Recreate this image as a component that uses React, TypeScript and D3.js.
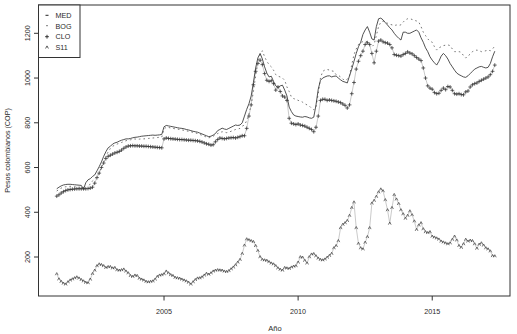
import React from "react";
import * as d3 from "d3";

const width = 517;
const height = 334;

// monthly series, Jan 2001 .. May 2017
const startYear = 2001;

const med = [
  505, 512, 518, 522, 524, 525, 525, 524, 523, 522, 521, 520,
  503, 532, 545, 550, 560, 567, 585, 604, 625, 650, 671, 688,
  695, 705, 710, 713, 718, 722, 725, 728, 728, 730, 733, 735,
  736, 738, 740, 741, 742, 743, 744, 745, 744, 745, 746, 748,
  782, 788, 786, 784, 782, 780, 778, 776, 775, 773, 770, 768,
  765, 762, 760, 758, 754, 750, 746, 742, 738, 740, 745, 752,
  765, 770, 776, 772, 770, 775, 780, 785, 790, 788, 790, 800,
  830, 860, 885, 920, 980, 1045, 1090, 1110, 1085, 1050, 1022, 1005,
  1008, 985, 965, 958, 965, 968, 946, 920, 870, 850, 835, 830,
  828, 826, 825, 828, 826, 822, 820, 825, 880, 950, 990, 1000,
  1005, 1009, 1010, 1005, 1008, 1009, 1000, 992, 985, 982, 978, 1010,
  1040, 1075, 1110, 1140, 1160, 1195, 1215, 1230, 1205, 1175, 1170, 1230,
  1265, 1268, 1260, 1248, 1237, 1225, 1215, 1200, 1188, 1178, 1170, 1205,
  1205, 1200, 1200, 1205, 1210, 1215, 1205, 1180, 1160, 1135, 1118, 1095,
  1080, 1068, 1058, 1075, 1098, 1110, 1100, 1085, 1065, 1050, 1035, 1022,
  1015, 1010, 1005, 1003, 1010, 1020, 1030, 1040, 1045, 1050, 1052, 1048,
  1045, 1048, 1065, 1095, 1120,
];

const bog = [
  495, 502, 508, 512, 514, 515, 516, 515, 514, 513, 512, 511,
  505, 500, 510, 528, 540, 548, 560, 580, 600, 625, 650, 670,
  685, 695, 700, 705, 708, 712, 716, 720, 722, 724, 726, 728,
  725, 727, 728, 728, 729, 730, 731, 732, 733, 734, 735, 736,
  772, 780, 779, 777, 775, 773, 772, 770, 768, 766, 764, 762,
  760, 757, 755, 752, 748, 744, 740, 736, 733, 735, 740, 746,
  752, 756, 760, 758, 756, 758, 762, 766, 770, 772, 775, 785,
  790, 810, 840, 880, 940, 1010, 1070, 1105, 1122, 1095, 1075, 1060,
  1050, 1035, 1015, 1008, 1005, 1000, 990, 960, 940, 915, 908, 905,
  900, 898, 892, 885, 880, 875, 865, 858, 870, 930, 1000, 1030,
  1036, 1038, 1036, 1032, 1030, 1015, 1012, 1005, 995, 990, 995, 1010,
  1060, 1105, 1130, 1150, 1158, 1163, 1165, 1162, 1155, 1140, 1150, 1190,
  1230, 1250, 1255, 1250, 1245, 1240, 1238, 1235, 1237, 1235, 1238, 1250,
  1260, 1265, 1265, 1262, 1258, 1255, 1250, 1230, 1205, 1190, 1175, 1165,
  1160, 1140, 1125, 1135, 1140, 1145, 1147, 1148, 1145, 1130, 1118, 1118,
  1118, 1115, 1100, 1090, 1095, 1110, 1118, 1122, 1125, 1122, 1118, 1120,
  1122, 1125, 1122, 1130, 1143,
];

const clo = [
  472, 478, 486, 492, 497, 500, 502, 503, 504, 505, 505, 505,
  505, 505, 506, 508, 512, 530, 555, 575, 600, 620, 640, 650,
  655, 660, 665, 668, 672, 678, 686, 692, 696, 697, 698, 697,
  697, 696, 696, 695, 695, 694, 693, 692, 691, 690, 689, 688,
  728, 732, 730, 729, 728, 727, 726, 725, 725, 724, 723, 722,
  722, 721, 720, 719, 717, 714, 710, 706, 704, 700, 702, 715,
  725, 732, 730, 728, 730, 732, 733, 734, 732, 735, 738, 742,
  742, 775, 830, 880, 970, 1030, 1065, 1080, 1060, 1020, 990, 985,
  988, 975, 946, 960, 940, 920, 915, 900, 820, 798, 795, 792,
  795, 790, 788, 785, 780, 775, 770, 760, 780, 830, 900, 905,
  905, 900, 902, 900, 898, 896, 893, 890, 884, 878, 866, 880,
  930, 980, 1040, 1075, 1100, 1120, 1150, 1158, 1150, 1110, 1068, 1120,
  1165, 1170, 1162, 1158, 1156, 1150, 1135, 1105, 1102, 1100, 1098, 1105,
  1110, 1117, 1112, 1108, 1100, 1092, 1085, 1078, 1045, 1000, 965, 955,
  950, 935, 930, 932, 945, 955, 948, 962, 960, 945, 930, 928,
  930, 926, 925, 938, 942, 960, 970, 975, 978, 985, 990, 995,
  1000, 1005, 1015, 1030, 1058,
];

const s11 = [
  124, 101, 90, 82, 78, 88, 96, 101, 106, 110, 105, 98,
  92, 86, 84, 100, 125, 140, 160, 168, 165, 160, 152, 156,
  156, 150, 152, 142, 140, 142, 145, 136, 128, 116, 112, 118,
  116, 104, 100, 96, 90, 88, 90, 92, 100, 112, 118, 120,
  124, 136, 128, 120, 116, 108, 106, 104, 100, 96, 92, 86,
  78, 88, 98, 105, 106, 110, 118, 126, 122, 128, 136, 140,
  142, 141, 140, 136, 134, 138, 146, 154, 164, 176, 188, 215,
  252, 280, 276, 272, 268, 250, 228, 200, 188, 186, 184, 178,
  172, 168, 160, 150, 144, 140, 152, 150, 148, 154, 158, 160,
  176, 200, 198, 184, 172, 200, 212, 214, 204, 194, 188, 186,
  190, 198, 206, 215, 240, 250, 272, 330, 345, 352, 362, 385,
  420, 445, 330, 260, 240, 235, 265, 290, 330, 440, 452, 470,
  490, 503, 495, 455, 410, 350, 420, 478, 458, 438, 410, 392,
  372, 385, 405, 388, 360, 322, 342, 352, 325, 312, 308, 312,
  292, 288, 284, 279, 270, 266, 262, 258, 262, 278, 292, 275,
  250, 242, 258, 278, 270, 274, 272, 258, 238, 256, 262, 252,
  240, 235, 226, 205, 204,
];

const xTicks = [2005, 2010, 2015];
const yTicks = [200, 400, 600, 800, 1000, 1200];
const legendNames = ["MED", "BOG", "CLO", "S11"];

const left = 38.5, right = 510, top = 5, bottom = 296;
const font = "Liberation Sans, Arial, sans-serif";
const ink = "#2a2a2a";

const x = d3.scaleLinear().domain([2000.32, 2017.9]).range([left, right]);
const y = d3.scaleLinear().domain([25.7, 1326.5]).range([bottom, top]);

const toPts = (arr: number[]) => arr.map((v, i) => [startYear + i / 12, v] as [number, number]);

const line = d3.line<[number, number]>()
  .x(d => x(d[0]))
  .y(d => y(d[1]));

function plus(cx: number, cy: number, s = 1.9) {
  return `M${cx - s},${cy}h${2 * s}M${cx},${cy - s}v${2 * s}`;
}

function caret(cx: number, cy: number) {
  return `M${cx - 1.4},${cy + 1.2}L${cx},${cy - 1.4}L${cx + 1.4},${cy + 1.2}`;
}

function App() {
  const medPts = toPts(med);
  const bogPts = toPts(bog);
  const cloPts = toPts(clo);
  const s11Pts = toPts(s11);

  const legendY = [15.3, 26, 36.7, 47.3];

  return (
    <div style={{position: "fixed", left: 0, top: 0}}>
      <svg width={width} height={height} style={{display: "block", background: "#fff"}}>
        {/* series */}
        <path d={line(s11Pts) || ""} fill="none" stroke="#888" strokeWidth={0.45} />
        <path d={s11Pts.map(d => caret(x(d[0]), y(d[1]))).join("")} fill="none" stroke="#3a3a3a" strokeWidth={0.7} />

        <path d={line(cloPts) || ""} fill="none" stroke="#777" strokeWidth={0.4} />
        <path d={cloPts.map(d => plus(x(d[0]), y(d[1]))).join("")} fill="none" stroke="#2a2a2a" strokeWidth={0.7} />

        <path d={line(bogPts) || ""} fill="none" stroke="#666" strokeWidth={0.9} strokeDasharray="1.6 3" />

        <path d={line(medPts) || ""} fill="none" stroke="#333" strokeWidth={0.85} />

        {/* box */}
        <rect x={left} y={top} width={right - left} height={bottom - top} fill="none" stroke="#333" strokeWidth={1} />

        {/* y axis */}
        {yTicks.map(t => (
          <g key={t}>
            <line x1={left} x2={left - 4.5} y1={y(t)} y2={y(t)} stroke="#333" />
            <text transform={`translate(29.5,${y(t)}) rotate(-90)`} textAnchor="middle"
                  fontFamily={font} fontSize={7.2} fill={ink}>{t}</text>
          </g>
        ))}
        <text transform={`translate(10,${(top + bottom) / 2}) rotate(-90)`} textAnchor="middle"
              fontFamily={font} fontSize={7.2} fill={ink}>Pesos colombianos (COP)</text>

        {/* x axis */}
        {xTicks.map(t => (
          <g key={t}>
            <line x1={x(t)} x2={x(t)} y1={bottom} y2={bottom + 4.5} stroke="#333" />
            <text x={x(t)} y={313.5} textAnchor="middle" fontFamily={font} fontSize={7.2} fill={ink}>{t}</text>
          </g>
        ))}
        <text x={275} y={331} textAnchor="middle" fontFamily={font} fontSize={7.5} fill={ink}>Año</text>

        {/* legend */}
        <rect x={left} y={top} width={41.5} height={52.5} fill="#fff" stroke="#333" strokeWidth={1} />
        {legendNames.map((name, i) => (
          <g key={name}>
            {i === 0 && <line x1={45.5} x2={48.5} y1={legendY[i]} y2={legendY[i]} stroke="#222" strokeWidth={1} />}
            {i === 1 && <line x1={46.3} x2={47.7} y1={legendY[i] - 0.3} y2={legendY[i] - 0.3} stroke="#444" strokeWidth={1} />}
            {i === 2 && <path d={plus(47, legendY[i])} stroke="#222" strokeWidth={0.9} fill="none" />}
            {i === 3 && <path d={caret(47, legendY[i])} stroke="#333" strokeWidth={0.8} fill="none" />}
            <text x={55.5} y={legendY[i] + 2.6} fontFamily={font} fontSize={7.2} fill={ink}>{name}</text>
          </g>
        ))}
      </svg>
    </div>
  );
}

export default App;
